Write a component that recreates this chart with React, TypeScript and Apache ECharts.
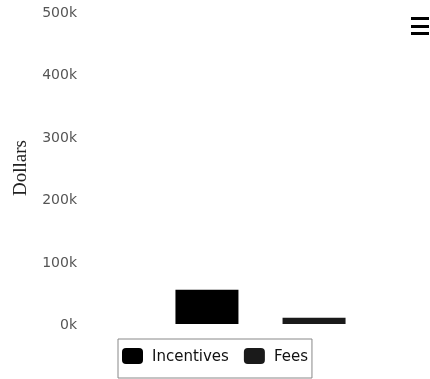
import React, { useEffect, useRef } from "react";
import * as echarts from "echarts";

const categories = [""];
const seriesNames = ["Incentives", "Fees"];
const incentivesValues = [55000];
const feesValues = [10000];
const yTicks = { min: 0, max: 500000, interval: 100000 };

export default function App() {
  const ref = useRef<HTMLDivElement>(null);
  useEffect(() => {
    if (!ref.current) return;
    const chart = echarts.init(ref.current, undefined, { renderer: "svg" });
    const font = "DejaVu Sans";
    chart.setOption({
      animation: false,
      grid: { left: 100, right: 9, top: 12, bottom: 55, containLabel: false },
      xAxis: {
        type: "category",
        data: categories,
        axisLine: { show: false },
        axisTick: { show: false },
        axisLabel: { show: false },
      },
      yAxis: {
        type: "value",
        min: yTicks.min,
        max: yTicks.max,
        interval: yTicks.interval,
        name: "Dollars",
        nameLocation: "middle",
        nameGap: 71,
        nameTextStyle: { fontFamily: "Liberation Serif", fontSize: 19, color: "#222" },
        axisLine: { show: false },
        axisTick: { show: false },
        splitLine: { show: false },
        axisLabel: {
          margin: 23,
          fontFamily: font,
          fontSize: 14,
          color: "#555",
          formatter: (v: number) => `${v / 1000}k`,
        },
      },
      legend: {
        data: seriesNames,
        left: 118,
        top: 339,
        padding: [9, 4, 14, 4],
        borderColor: "#888",
        borderWidth: 1,
        itemWidth: 21,
        itemHeight: 16,
        itemGap: 15,
        icon: "roundRect",
        textStyle: { fontFamily: font, fontSize: 15, color: "#111", padding: [0, 0, 0, 4] },
      },
      series: [
        {
          name: seriesNames[0],
          type: "bar",
          data: incentivesValues,
          barWidth: 63,
          barGap: "70%",
          itemStyle: { color: "#000" },
        },
        {
          name: seriesNames[1],
          type: "bar",
          data: feesValues,
          barWidth: 63,
          itemStyle: { color: "#1a1a1a" },
        },
      ],
      graphic: [
        { type: "rect", shape: { x: 411, y: 17, width: 18, height: 3 }, style: { fill: "#000" } },
        { type: "rect", shape: { x: 411, y: 25, width: 18, height: 3 }, style: { fill: "#000" } },
        { type: "rect", shape: { x: 411, y: 32, width: 18, height: 3 }, style: { fill: "#000" } },
      ],
    });
    return () => chart.dispose();
  }, []);
  return (
    <div
      ref={ref}
      style={{ position: "fixed", left: 0, top: 0, width: 430, height: 379 }}
    />
  );
}
